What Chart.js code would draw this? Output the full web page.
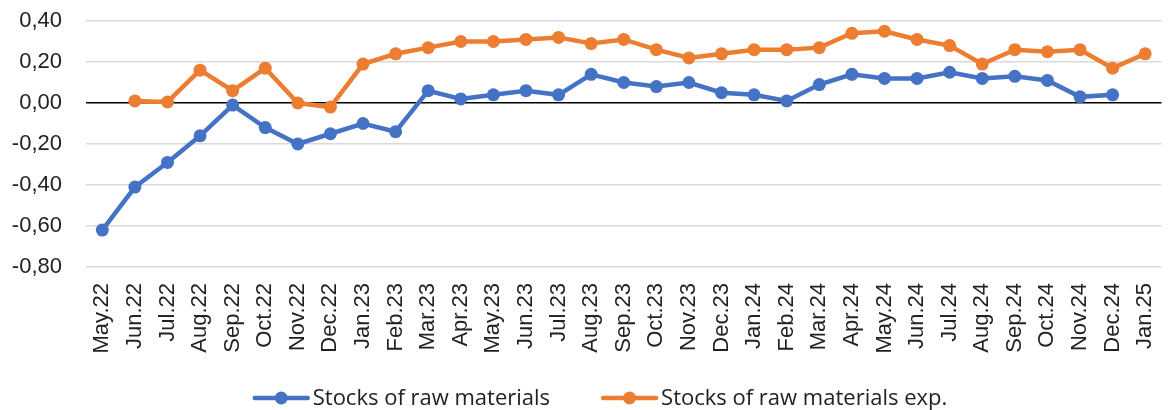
<!DOCTYPE html>
<html lang="en">
<head>
    <meta charset="UTF-8">
    <title>Stocks of raw materials</title>
    <style>
        body{
            margin: 0;
            background-color: #ffffff;
        }
    </style>
</head>
<body>

    <canvas id="myChart" width="1168" height="410"></canvas>

    <script src="https://cdn.jsdelivr.net/npm/chart.js"></script>

    <script>
        // data
        const months = ['May.22','Jun.22','Jul.22','Aug.22','Sep.22','Oct.22','Nov.22','Dec.22',
            'Jan.23','Feb.23','Mar.23','Apr.23','May.23','Jun.23','Jul.23','Aug.23','Sep.23','Oct.23','Nov.23','Dec.23',
            'Jan.24','Feb.24','Mar.24','Apr.24','May.24','Jun.24','Jul.24','Aug.24','Sep.24','Oct.24','Nov.24','Dec.24',
            'Jan.25']
        const stocks = [-0.62,-0.41,-0.29,-0.16,-0.01,-0.12,-0.20,-0.15,
            -0.10,-0.14,0.06,0.02,0.04,0.06,0.04,0.14,0.10,0.08,0.10,0.05,
            0.04,0.01,0.09,0.14,0.12,0.12,0.15,0.12,0.13,0.11,0.03,0.04,
            null]
        const stocksExp = [null,0.01,0.005,0.16,0.06,0.17,0.00,-0.02,
            0.19,0.24,0.27,0.30,0.30,0.31,0.32,0.29,0.31,0.26,0.22,0.24,
            0.26,0.26,0.27,0.34,0.35,0.31,0.28,0.19,0.26,0.25,0.26,0.17,
            0.24]
        const yMin = -0.8
        const yMax = 0.4
        const yStep = 0.2

        const blue = '#4472C4'
        const orange = '#ED7D31'
        const tickFont = { family: '"Liberation Sans", Arial, sans-serif', size: 22 }

        // legend: line with a dot in it, then the label
        const lineLegend = {
            id: 'lineLegend',
            afterDraw(chart) {
                const ctx = chart.ctx
                const sets = chart.data.datasets
                const markW = 57, gapText = 3, gapItem = 51
                ctx.save()
                ctx.font = '22px "Open Sans", sans-serif'
                const widths = sets.map(d => ctx.measureText(d.label).width)
                let total = gapItem * (sets.length - 1)
                widths.forEach(w => total += markW + gapText + w)
                let x = chart.width / 2 + 16 - total / 2
                const y = 398
                sets.forEach((d, i) => {
                    ctx.strokeStyle = d.borderColor
                    ctx.lineWidth = 4.5
                    ctx.lineCap = 'round'
                    ctx.beginPath()
                    ctx.moveTo(x + 2, y)
                    ctx.lineTo(x + markW - 2, y)
                    ctx.stroke()
                    ctx.fillStyle = d.borderColor
                    ctx.beginPath()
                    ctx.arc(x + markW / 2, y, 6.5, 0, Math.PI * 2)
                    ctx.fill()
                    ctx.fillStyle = '#222222'
                    ctx.textBaseline = 'middle'
                    ctx.textAlign = 'left'
                    ctx.fillText(d.label, x + markW + gapText, y + 1)
                    x += markW + gapText + widths[i] + gapItem
                })
                ctx.restore()
            }
        }

        const ctx = document.getElementById('myChart')
        const myChart = new Chart(ctx, {
            type: 'line',
            data: {
                labels: months,
                datasets: [{
                    label: 'Stocks of raw materials',
                    data: stocks,
                    borderColor: blue,
                    backgroundColor: blue,
                    borderWidth: 4.5,
                    pointRadius: 6.5,
                    pointBorderWidth: 0,
                    pointHoverRadius: 6.5,
                    tension: 0
                },{
                    label: 'Stocks of raw materials exp.',
                    data: stocksExp,
                    borderColor: orange,
                    backgroundColor: orange,
                    borderWidth: 4.5,
                    pointRadius: 6.5,
                    pointBorderWidth: 0,
                    pointHoverRadius: 6.5,
                    tension: 0
                }]
            },
            options: {
                responsive: false,
                animation: false,
                layout: {
                    padding: { top: 21, left: 10, right: 0, bottom: 55 }
                },
                plugins: {
                    legend: { display: false },
                    tooltip: { enabled: false }
                },
                scales: {
                    x: {
                        offset: true,
                        grid: { display: false, drawTicks: false },
                        border: { display: false },
                        ticks: {
                            autoSkip: false,
                            maxRotation: 90,
                            minRotation: 90,
                            padding: 16,
                            color: '#222222',
                            font: tickFont
                        },
                        afterFit: s => {
                            s.height = 88
                            s.paddingLeft = 0
                            s.paddingRight = 0
                        }
                    },
                    y: {
                        min: yMin,
                        max: yMax,
                        border: { display: false },
                        grid: {
                            drawTicks: false,
                            lineWidth: 1.5,
                            color: c => Math.abs(c.tick.value) < 1e-9 ? '#000000' : '#d9d9d9'
                        },
                        ticks: {
                            stepSize: yStep,
                            padding: 24,
                            color: '#222222',
                            font: tickFont,
                            callback: v => (Math.abs(v) < 1e-9 ? 0 : v).toFixed(2).replace('.', ',')
                        },
                        afterFit: s => {
                            s.width = 76
                            s.paddingTop = 0
                            s.paddingBottom = 0
                        }
                    }
                }
            },
            plugins: [lineLegend]
        })
    </script>
</body>
</html>
